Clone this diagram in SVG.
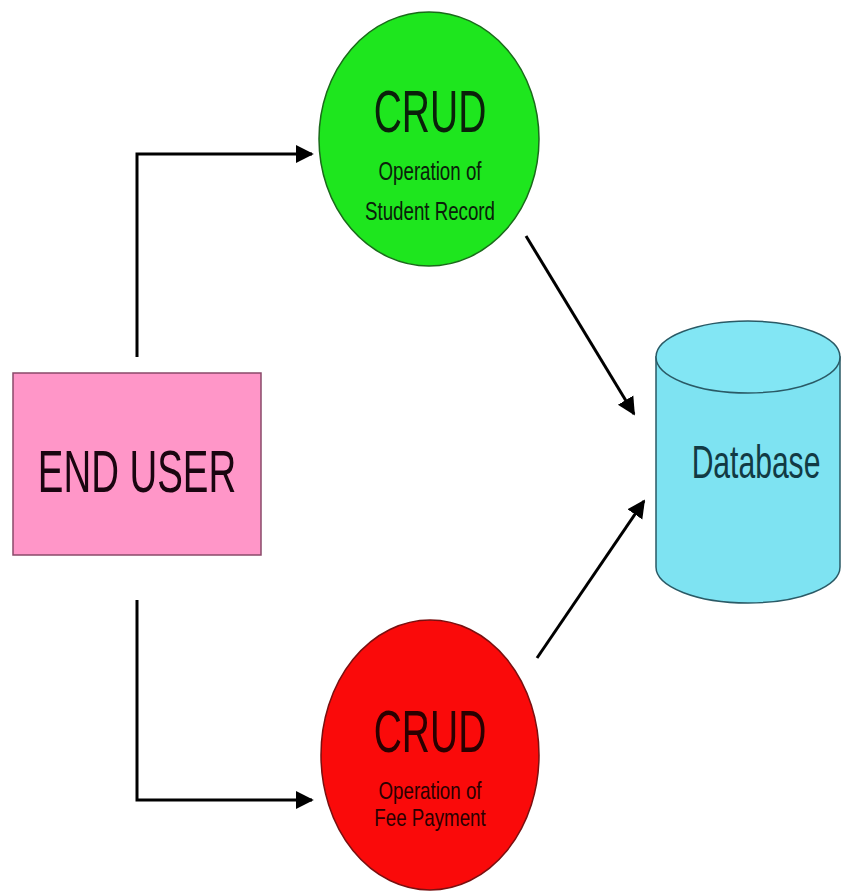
<svg xmlns="http://www.w3.org/2000/svg" width="841" height="893" viewBox="0 0 841 893">
<defs>
<marker id="arr" viewBox="0 0 10 10" refX="9" refY="5" markerWidth="6" markerHeight="6.5" markerUnits="strokeWidth" orient="auto">
<path d="M0,0 L10,5 L0,10 z" fill="#000"/>
</marker>
<style>
.t{font-family:"Liberation Sans",Arial,sans-serif;text-anchor:middle}
.c{stroke:#000;stroke-width:3;fill:none}
</style>
</defs>
<rect width="841" height="893" fill="#fff"/>
<g id="connectors">
<path class="c" d="M137,357 V154 H312" marker-end="url(#arr)"/>
<path class="c" d="M137,600 V800 H312" marker-end="url(#arr)"/>
<path class="c" d="M526,236 L634,414" marker-end="url(#arr)"/>
<path class="c" d="M537,658 L644,501" marker-end="url(#arr)"/>
</g>
<g id="end-user">
<rect x="13" y="373" width="248" height="182" fill="#ff96c8" stroke="#8a4a6a" stroke-width="1.5"/>
<text class="t" transform="translate(137,492) scale(0.64,1)" font-size="60" fill="#1a0510">END USER</text>
</g>
<g id="crud-student">
<ellipse cx="429" cy="139" rx="110" ry="127" fill="#1ee61e" stroke="#1a6a1a" stroke-width="1.5"/>
<text class="t" transform="translate(430,132) scale(0.65,1)" font-size="60" fill="#0a200a">CRUD</text>
<text class="t" transform="translate(430,180) scale(0.72,1)" font-size="26" fill="#0a200a">Operation of</text>
<text class="t" transform="translate(430,220) scale(0.72,1)" font-size="26" fill="#0a200a">Student Record</text>
</g>
<g id="crud-fee">
<ellipse cx="430" cy="755" rx="109" ry="135" fill="#fa0a0a" stroke="#7a1010" stroke-width="1.5"/>
<text class="t" transform="translate(430,752) scale(0.65,1)" font-size="60" fill="#2a0000">CRUD</text>
<text class="t" transform="translate(430,799) scale(0.78,1)" font-size="24" fill="#2a0000">Operation of</text>
<text class="t" transform="translate(430,826) scale(0.78,1)" font-size="24" fill="#2a0000">Fee Payment</text>
</g>
<g id="database">
<path d="M656,357 V567 A92,36 0 0 0 840,567 V357 Z" fill="#7ee3f2" stroke="#2a5a66" stroke-width="1.5"/>
<ellipse cx="748" cy="357" rx="92" ry="36" fill="#82e6f4" stroke="#2a5a66" stroke-width="1.5"/>
<text class="t" transform="translate(756,478) scale(0.64,1)" font-size="47" fill="#123a44">Database</text>
</g>
</svg>
